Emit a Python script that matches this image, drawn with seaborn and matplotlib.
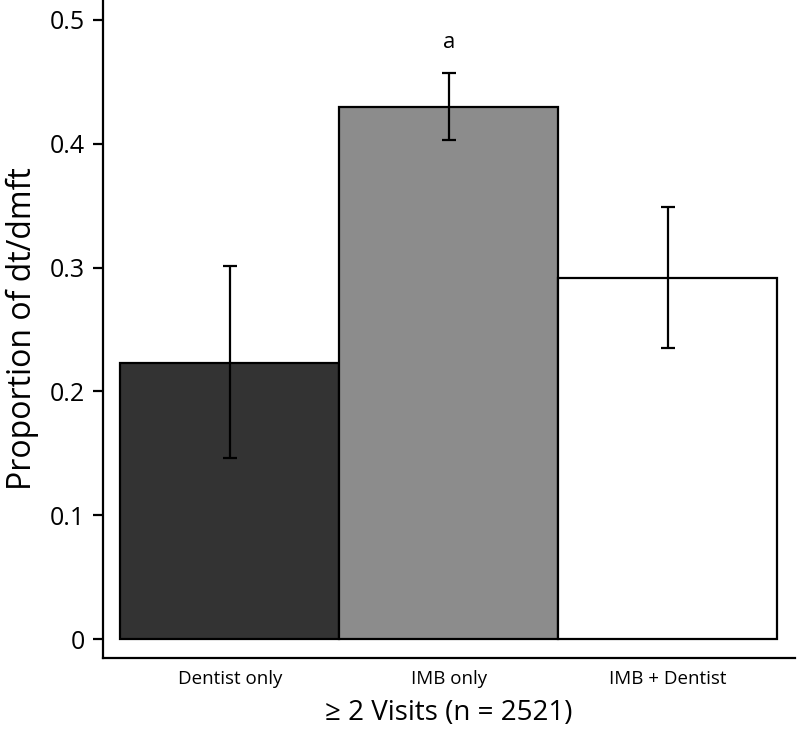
import matplotlib
matplotlib.use("Agg")
import matplotlib.pyplot as plt
import seaborn as sns
import pandas as pd

sns.set_style("white")
plt.rcParams["font.family"] = ["Open Sans", "DejaVu Sans"]
plt.rcParams.update({"text.color": "black", "axes.labelcolor": "black",
                     "xtick.color": "black", "ytick.color": "black"})

# values
groups = ["Dentist only", "IMB only", "IMB + Dentist"]
proportion = [0.223, 0.430, 0.292]
ci_low = [0.146, 0.403, 0.235]
ci_high = [0.301, 0.457, 0.349]
bar_colors = ["#333333", "#8c8c8c", "#ffffff"]
ytick_vals = [0, 0.1, 0.2, 0.3, 0.4, 0.5]
ytick_labels = ["0", "0.1", "0.2", "0.3", "0.4", "0.5"]

df = pd.DataFrame({"group": groups, "proportion": proportion})

fig = plt.figure(figsize=(7.98, 7.35), dpi=100)
ax = fig.add_axes([0.129, 0.105, 0.867, 0.895])

sns.barplot(data=df, x="group", y="proportion", hue="group", palette=bar_colors,
            width=1.0, errorbar=None, legend=False, edgecolor="black",
            linewidth=1.6, ax=ax)

# confidence intervals
lower = [p - lo for p, lo in zip(proportion, ci_low)]
upper = [hi - p for p, hi in zip(proportion, ci_high)]
ax.errorbar(range(len(groups)), proportion, yerr=[lower, upper], fmt="none",
            ecolor="black", elinewidth=1.6, capsize=4.7, capthick=1.6, zorder=5)

# significance marker
ax.text(1, ci_high[1] + 0.016, "a", ha="center", va="bottom", fontsize=16,
        color="black")

ax.set_xlim(-0.58, 2.58)
ax.set_ylim(-0.015, 0.516)
ax.set_yticks(ytick_vals)
ax.set_yticklabels(ytick_labels)
ax.tick_params(axis="y", length=7, width=1.6, pad=6, labelsize=18, left=True,
               colors="black")
ax.tick_params(axis="x", length=0, pad=9, labelsize=13.5, colors="black")

ax.set_ylabel("Proportion of dt/dmft", fontsize=23, labelpad=8, color="black")
ax.set_xlabel("≥ 2 Visits (n = 2521)", fontsize=20, labelpad=8, color="black")

sns.despine(ax=ax)
for side in ["left", "bottom"]:
    ax.spines[side].set_linewidth(1.6)
    ax.spines[side].set_color("black")

fig.savefig("out.png", dpi=100)
